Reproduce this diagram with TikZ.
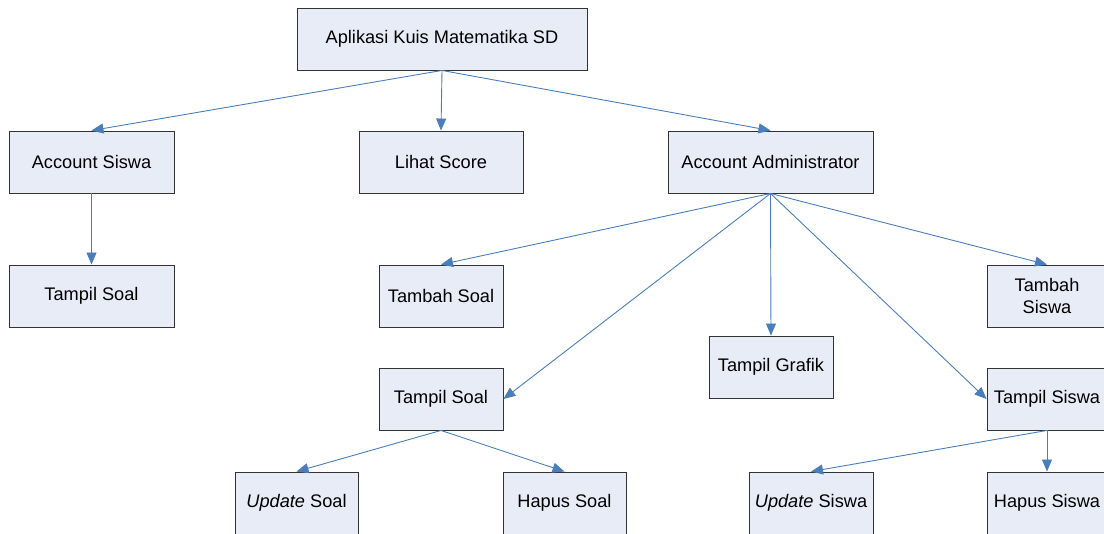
\documentclass[tikz,border=0pt]{standalone}
\usepackage{fontspec}
\setmainfont{Liberation Sans}
\usetikzlibrary{arrows.meta}
\definecolor{boxfill}{HTML}{E7ECF6}
\definecolor{boxline}{HTML}{333333}
\definecolor{arr}{HTML}{4A7EBB}
\tikzset{
  box/.style={draw=boxline, line width=0.9pt, fill=boxfill, rectangle, inner sep=2pt,
    font=\fontsize{18.2}{22}\selectfont, align=center, text=black},
  conn/.style={draw=arr, line width=0.9pt, -{Triangle[length=12pt,width=10pt]}}
}
\begin{document}
\begin{tikzpicture}[x=1pt,y=-1pt]
\useasboundingbox (0,0) rectangle (1104,534);
\node[box, minimum width=290pt, minimum height=62pt] (app) at (442,39) {Aplikasi Kuis Matematika SD};
\node[box, minimum width=165pt, minimum height=62pt] (acs) at (91.5,162) {Account Siswa};
\node[box, minimum width=164pt, minimum height=62pt] (lih) at (441,162) {Lihat Score};
\node[box, minimum width=205pt, minimum height=62pt] (adm) at (770.5,162) {Account Administrator};
\node[box, minimum width=165pt, minimum height=62pt] (ts1) at (91.5,296) {Tampil Soal};
\node[box, minimum width=124pt, minimum height=62pt] (tbs) at (441,296) {Tambah Soal};
\node[box, minimum width=120pt, minimum height=62pt] (tbw) at (1047,296) {Tambah\\Siswa};
\node[box, minimum width=124pt, minimum height=62pt] (tgr) at (771,367) {Tampil Grafik};
\node[box, minimum width=124pt, minimum height=62pt] (ts2) at (441,399) {Tampil Soal};
\node[box, minimum width=120pt, minimum height=62pt] (tsw) at (1047,399) {Tampil Siswa};
\node[box, minimum width=123pt, minimum height=62pt] (ups) at (296.5,503) {\textit{Update} Soal};
\node[box, minimum width=123pt, minimum height=62pt] (hps) at (564.5,503) {Hapus Soal};
\node[box, minimum width=124pt, minimum height=62pt] (upw) at (811,503) {\textit{Update} Siswa};
\node[box, minimum width=120pt, minimum height=62pt] (hpw) at (1047,503) {Hapus Siswa};
\draw[conn] (app.south) -- (acs.north);
\draw[conn] (app.south) -- (lih.north);
\draw[conn] (app.south) -- (adm.north);
\draw[conn] (acs.south) -- (ts1.north);
\draw[conn] (adm.south) -- (tbs.north);
\draw[conn] (adm.south) -- (tbw.north);
\draw[conn] (adm.south) -- (tgr.north);
\draw[conn] (adm.south) -- (ts2.east);
\draw[conn] (adm.south) -- (tsw.west);
\draw[conn] (ts2.south) -- (ups.north);
\draw[conn] (ts2.south) -- (hps.north);
\draw[conn] (tsw.south) -- (upw.north);
\draw[conn] (tsw.south) -- (hpw.north);
\end{tikzpicture}
\end{document}
